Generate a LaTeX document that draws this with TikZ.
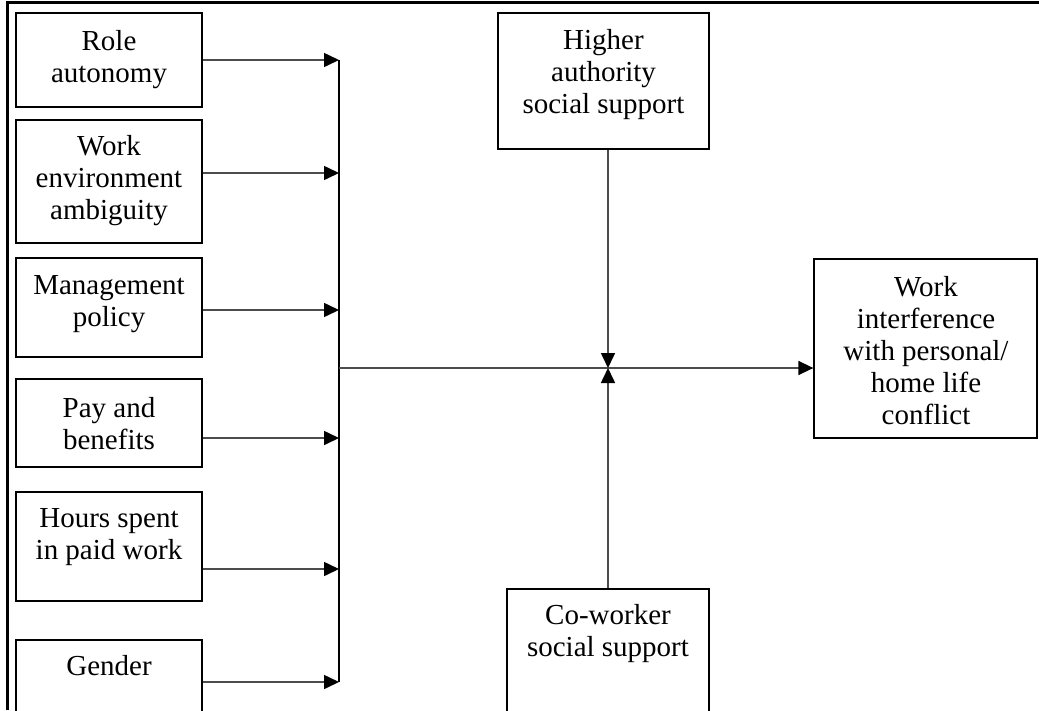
\documentclass[tikz,border=0pt]{standalone}
\usepackage{fontspec}
\setmainfont{Liberation Serif}
\usetikzlibrary{arrows.meta}
\begin{document}
\begin{tikzpicture}[x=1pt,y=-1pt,
  box/.style={draw, line width=1.3pt, rectangle, inner sep=0pt},
  lbl/.style={align=center, inner sep=0pt, font=\fontsize{29}{32}\selectfont},
  conn/.style={line width=1.6pt, draw=black!70},
  arr/.style={conn, -{Triangle[length=15pt,width=14pt,black]}},
  frameline/.style={line width=3pt}]
\useasboundingbox (0,0) rectangle (1039,710);
\clip (0,0) rectangle (1039,710);
\fill[white] (0,0) rectangle (1039,710);
% frame
\coordinate (ftl) at (7,2.5);
\coordinate (ftr) at (1039,2.5);
\coordinate (fbl) at (7,710);
\draw[frameline] (ftr) -- (ftl) -- (fbl);
% left boxes
\node[box, minimum width=186pt, minimum height=94pt] (role) at (109,60) {};
\node[box, minimum width=186pt, minimum height=123pt] (work) at (109,181.5) {};
\node[box, minimum width=186pt, minimum height=99pt] (mgmt) at (109,307.5) {};
\node[box, minimum width=186pt, minimum height=88pt] (pay) at (109,423) {};
\node[box, minimum width=186pt, minimum height=109pt] (hours) at (109,546.5) {};
\node[box, minimum width=186pt, minimum height=130pt] (gender) at (109,705) {};
% texts
\node[lbl] (troll) at (109,60) {Role\\autonomy};
\node[lbl] (twork) at (109,181) {Work\\environment\\ambiguity};
\node[lbl] (tmgmt) at (109,304) {Management\\policy};
\node[lbl] (tpay) at (109,424) {Pay and\\benefits};
\node[lbl] (thours) at (109,537.5) {Hours spent\\in paid work};
\node[lbl, anchor=base] (tgender) at (109,675) {Gender};
% moderators and outcome
\node[box, minimum width=211pt, minimum height=136pt] (higher) at (603.5,81) {};
\node[lbl] (thigher) at (603.5,75) {Higher\\authority\\social support};
\node[box, minimum width=202pt, minimum height=180pt] (cowork) at (608,679) {};
\node[lbl] (tcowork) at (608,634) {Co-worker\\social support};
\node[box, minimum width=223pt, minimum height=179pt] (out) at (925.5,348.5) {};
\node[lbl] (tout) at (926,351) {Work\\interference\\with personal/\\home life\\conflict};
% bus
\coordinate (b1) at (339,60);
\coordinate (b2) at (339,173);
\coordinate (b3) at (339,310);
\coordinate (b4) at (339,438);
\coordinate (b5) at (339,569);
\coordinate (b6) at (339,682);
\coordinate (bm) at (339,368);
\coordinate (hub) at (608,368);
\draw[line width=1.4pt] (b1) -- (b6);
\draw[arr] (role.east |- b1) -- (b1);
\draw[arr] (work.east |- b2) -- (b2);
\draw[arr] (mgmt.east |- b3) -- (b3);
\draw[arr] (pay.east |- b4) -- (b4);
\draw[arr] (hours.east |- b5) -- (b5);
\draw[arr] (gender.east |- b6) -- (b6);
\draw[arr] (bm) -- (out.west |- bm);
\draw[arr] (higher.south -| hub) -- (hub);
\draw[arr] (cowork.north -| hub) -- (hub);
\end{tikzpicture}
\end{document}
